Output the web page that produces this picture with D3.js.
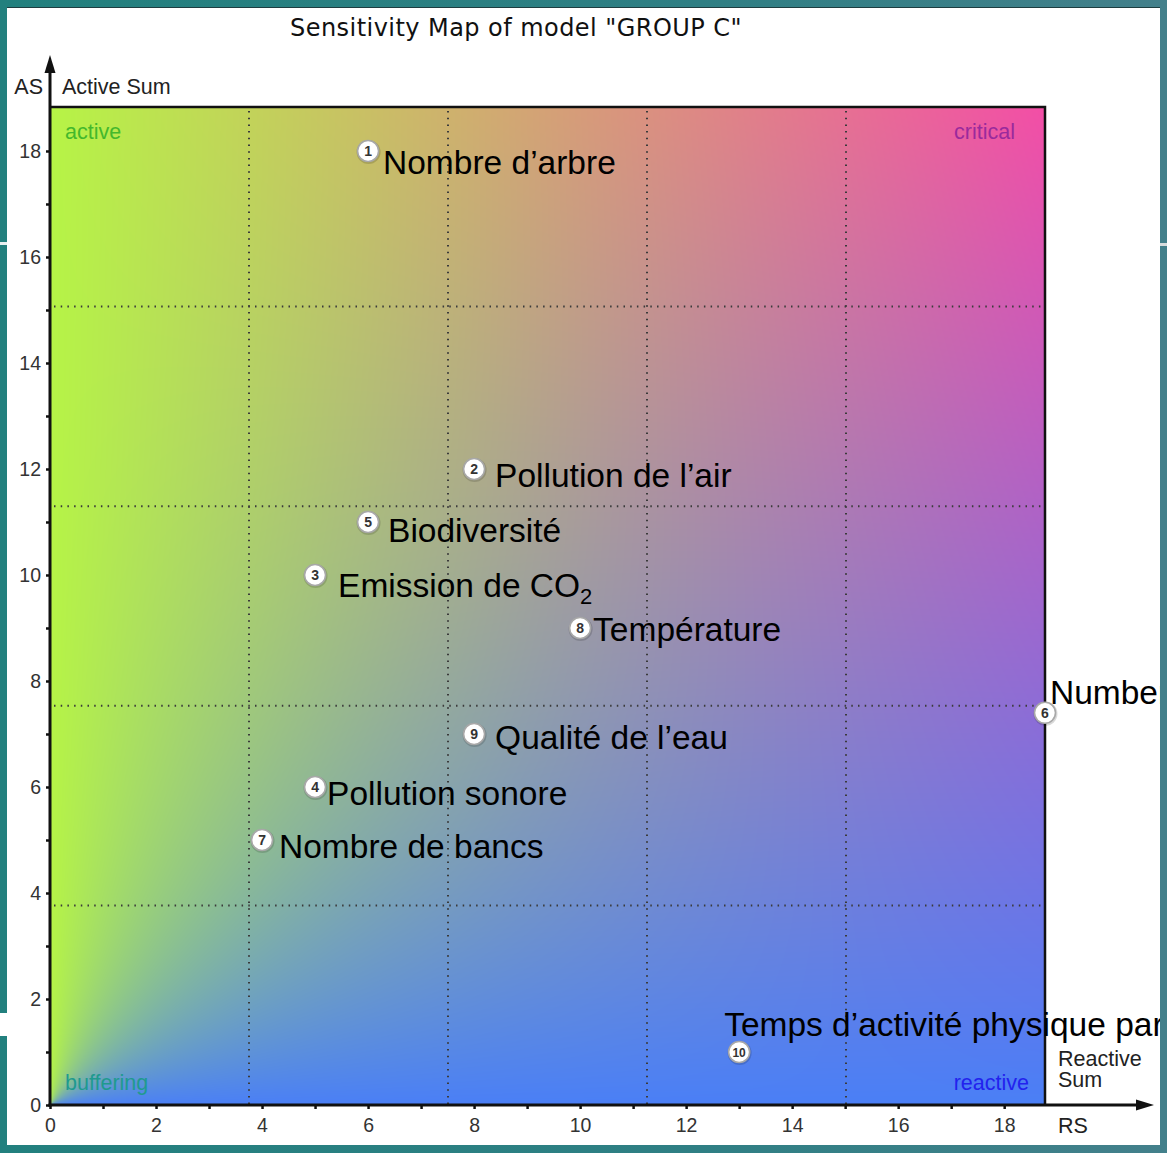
<!DOCTYPE html>
<html><head><meta charset="utf-8">
<script src="https://cdn.jsdelivr.net/npm/d3@7"></script>
<style>html,body{margin:0;padding:0;background:#fff;}svg{display:block;}</style>
</head><body>
<script>
// ---- data ----
const ids = [1,2,3,4,5,6,7,8,9,10];
const names = ["Nombre d’arbre","Pollution de l’air","Emission de CO₂","Pollution sonore","Biodiversité","Number","Nombre de bancs","Température","Qualité de l’eau","Temps d’activité physique par"];
const reactiveSum = [6,8,5,5,6,19,4,10,8,13];
const activeSum = [18,12,10,6,11,7.4,5,9,7,1];
const tickValues = [0,2,4,6,8,10,12,14,16,18];
const rsMax = 18.77, asMax = 18.83;
const gridRS = [3.754,7.508,11.262,15.016];
const gridAS = [3.766,7.532,11.298,15.064];
const quadrantNames = ["active","critical","buffering","reactive"];
const title = 'Sensitivity Map of model "GROUP C"';

const W = 1167, H = 1153;
const svg = d3.select("body").append("svg").attr("width", W).attr("height", H);

const x = d3.scaleLinear([0,rsMax],[50,1045]).clamp(true);
const y = d3.scaleLinear([0,asMax],[1105,107]).clamp(true);
const FONT = "Liberation Sans, Arial, Helvetica, sans-serif";

svg.append("rect").attr("x",0).attr("y",0).attr("width",W).attr("height",H).attr("fill","#fff");

// gradient background via canvas
const pw = Math.round(x(rsMax)-x(0)), ph = Math.round(y(0)-y(asMax));
const cv = document.createElement("canvas"); cv.width = pw; cv.height = ph;
const ctx = cv.getContext("2d"); const img = ctx.createImageData(pw, ph);
const G = [182,244,70], P = [243,78,166], B = [74,127,246];
for (let j=0;j<ph;j++){ for (let i=0;i<pw;i++){
  const u = (i+0.5)/pw, v = 1-(j+0.5)/ph;
  const t = Math.atan2(v,u)/(Math.PI/2);
  const idx=(j*pw+i)*4;
  for (let c=0;c<3;c++){
    const bl = t*G[c]+(1-t)*B[c];
    img.data[idx+c] = (1-u)*v*G[c] + u*v*P[c] + u*(1-v)*B[c] + (1-u)*(1-v)*bl;
  }
  img.data[idx+3]=255;
}}
ctx.putImageData(img,0,0);
svg.append("image").attr("x",x(0)).attr("y",y(asMax)).attr("width",pw).attr("height",ph)
  .attr("preserveAspectRatio","none").attr("href",cv.toDataURL());

// grid
const grid = svg.append("g").attr("stroke","#3a3a3a").attr("stroke-width",2).attr("stroke-dasharray","1.5,5.2");
gridRS.forEach(g=>grid.append("line").attr("x1",x(g)).attr("x2",x(g)).attr("y1",y(asMax)+4).attr("y2",y(0)));
gridAS.forEach(g=>grid.append("line").attr("x1",x(0)+4).attr("x2",x(rsMax)).attr("y1",y(g)).attr("y2",y(g)));

// border top/right
svg.append("path").attr("d",`M${x(0)},${y(asMax)}H${x(rsMax)}V${y(0)}`).attr("fill","none").attr("stroke","#111").attr("stroke-width",2.5);

// quadrant labels
const ql = svg.append("g").attr("font-family",FONT).attr("font-size",21.5);
ql.append("text").attr("x",x(0)+15).attr("y",y(asMax)+32).attr("fill","#44b82c").text(quadrantNames[0]);
ql.append("text").attr("x",x(rsMax)-30).attr("y",y(asMax)+32).attr("text-anchor","end").attr("fill","#9a2a9c").text(quadrantNames[1]);
ql.append("text").attr("x",x(0)+15).attr("y",y(0)-15).attr("fill","#1f9a8e").text(quadrantNames[2]);
ql.append("text").attr("x",x(rsMax)-16).attr("y",y(0)-15).attr("text-anchor","end").attr("fill","#2222ee").text(quadrantNames[3]);

// axes
const fmt = d => tickValues.includes(d) ? d : "";
const yAxis = svg.append("g").attr("transform",`translate(${x(0)},0)`)
  .call(d3.axisLeft(y).tickValues(d3.range(0,19)).tickSize(4).tickPadding(5).tickFormat(fmt));
const xAxis = svg.append("g").attr("transform",`translate(0,${y(0)})`)
  .call(d3.axisBottom(x).tickValues(d3.range(0,19)).tickSize(4).tickPadding(9).tickFormat(fmt));
[yAxis,xAxis].forEach(a=>{
  a.select(".domain").remove();
  a.selectAll("line").attr("stroke","#111").attr("stroke-width",2.5);
  a.selectAll("text").attr("font-family",FONT).attr("font-size",19.5).attr("fill","#333");
});
svg.append("line").attr("x1",x(0)).attr("x2",x(0)).attr("y1",y(0)+1.5).attr("y2",68).attr("stroke","#111").attr("stroke-width",3);
svg.append("line").attr("x1",x(0)-1.5).attr("x2",1140).attr("y1",y(0)).attr("y2",y(0)).attr("stroke","#111").attr("stroke-width",3);
svg.append("path").attr("d",`M${x(0)},55L${x(0)+5.5},73L${x(0)-5.5},73Z`).attr("fill","#111");
svg.append("path").attr("d",`M1154,${y(0)}L1136,${y(0)-5.5}L1136,${y(0)+5.5}Z`).attr("fill","#111");

// axis names
const an = svg.append("g").attr("font-family",FONT).attr("font-size",21.5).attr("fill","#222");
an.append("text").attr("x",43).attr("y",94).attr("text-anchor","end").text("AS");
an.append("text").attr("x",62).attr("y",94).text("Active Sum");
an.append("text").attr("x",1058).attr("y",1133).text("RS");
an.append("text").attr("x",1058).attr("y",1066).text("Reactive");
an.append("text").attr("x",1058).attr("y",1087).text("Sum");

// title
svg.append("text").attr("x",516).attr("y",36).attr("text-anchor","middle")
  .attr("font-family","DejaVu Sans, Verdana, sans-serif").attr("font-size",24).attr("letter-spacing",0.45)
  .attr("fill","#111").text(title);

// points
const labelOffset = [[15,23],[21,18],[23,22],[12,18],[20,20],[5,-9],[17,18],[13,13],[21,15],[-15,-16]];
const pts = svg.append("g");
ids.forEach((id,i)=>{
  const cx = x(reactiveSum[i]), cy = y(activeSum[i]);
  const g = pts.append("g");
  g.append("circle").attr("cx",cx+0.5).attr("cy",cy+1).attr("r",12).attr("fill","rgba(0,0,0,0.15)");
  g.append("circle").attr("cx",cx).attr("cy",cy).attr("r",10.5).attr("fill","#fff").attr("stroke","#a8a8a8").attr("stroke-width",1.6);
  g.append("text").attr("x",cx).attr("y",cy+5).attr("text-anchor","middle")
    .attr("font-family",FONT).attr("font-weight","bold")
    .attr("font-size",id>9?12:14).attr("fill","#333").text(id);
  const t = g.append("text").attr("x",cx+labelOffset[i][0]).attr("y",cy+labelOffset[i][1])
    .attr("font-family",FONT).attr("font-size",33.5).attr("fill","#000");
  const parts = names[i].split("₂");
  t.append("tspan").text(parts[0]);
  if (parts.length>1){ t.append("tspan").attr("font-size",22).attr("dy",7).text("2"); }
});

// outer frame
const defs = svg.append("defs");
const lg = defs.append("linearGradient").attr("id","frame").attr("x1",0).attr("x2",1).attr("y1",0).attr("y2",0);
lg.append("stop").attr("offset","0%").attr("stop-color","#22807e");
lg.append("stop").attr("offset","60%").attr("stop-color","#2f7f84");
lg.append("stop").attr("offset","100%").attr("stop-color","#43808b");
svg.append("path").attr("fill-rule","evenodd").attr("fill","url(#frame)")
  .attr("d",`M0,0H${W}V${H}H0Z M7,7V1145H1160V7Z`);
svg.append("line").attr("x1",7).attr("x2",1160).attr("y1",7.5).attr("y2",7.5).attr("stroke","#1d3d40").attr("stroke-width",1);
svg.append("rect").attr("x",0).attr("y",242).attr("width",7).attr("height",3).attr("fill","#e8f0f0");
svg.append("rect").attr("x",0).attr("y",1013).attr("width",7).attr("height",23).attr("fill","#fff");
svg.append("rect").attr("x",1160).attr("y",243).attr("width",7).attr("height",3).attr("fill","#d8dcdd");
</script>
</body></html>
